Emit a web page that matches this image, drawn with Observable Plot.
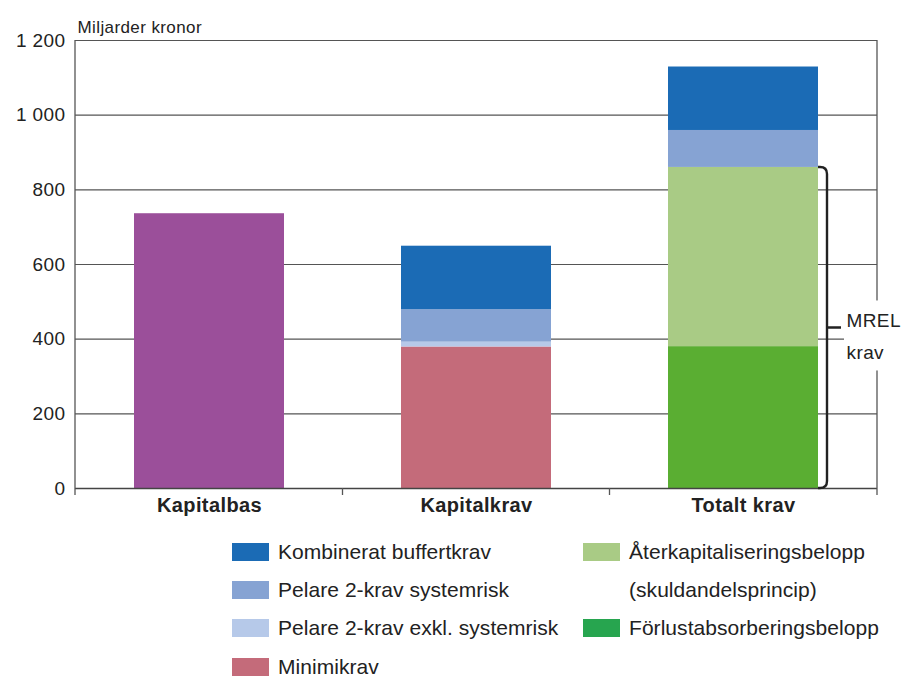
<!DOCTYPE html>
<html>
<head>
<meta charset="utf-8">
<script src="https://cdn.jsdelivr.net/npm/d3@7"></script>
<script src="https://cdn.jsdelivr.net/npm/@observablehq/plot@0.6"></script>
<style>
  html, body { margin: 0; padding: 0; background: #fff; }
  #wrap { position: relative; width: 909px; height: 677px; overflow: hidden; font-family: "Liberation Sans", Arial, sans-serif; color: #222; }
  .leg { position: absolute; display: flex; align-items: center; font-size: 21px; letter-spacing: 0.05px; white-space: nowrap; }
  .sw { width: 37px; height: 18px; margin-right: 9px; flex: none; }
</style>
</head>
<body>
<div id="wrap"></div>
<script>
const categories = ["Kapitalbas", "Kapitalkrav", "Totalt krav"];
const yTicks = [0, 200, 400, 600, 800, 1000, 1200];
const unitLabel = "Miljarder kronor";

// series values per category (Miljarder kronor)
const kapitalbas  = [736, 0, 0];
const minimikrav  = [0, 379, 0];
const pelare2Exkl = [0, 13, 0];
const pelare2Sys  = [0, 87, 99];
const buffert     = [0, 170, 170];
const forlust     = [0, 0, 380];
const aterkap     = [0, 0, 480];

const seriesNames = ["Kapitalbas", "Minimikrav", "Förlustabsorberingsbelopp", "Återkapitaliseringsbelopp",
  "Pelare 2-krav exkl. systemrisk", "Pelare 2-krav systemrisk", "Kombinerat buffertkrav"];
const seriesValues = [kapitalbas, minimikrav, forlust, aterkap, pelare2Exkl, pelare2Sys, buffert];
const seriesColors = ["#9b4f9a", "#c46b7a", "#5aae32", "#a9cb85", "#b6c9e9", "#86a3d3", "#1b6bb5"];

const legendCol1 = ["Kombinerat buffertkrav", "Pelare 2-krav systemrisk", "Pelare 2-krav exkl. systemrisk", "Minimikrav"];
const legendCol2 = [["Återkapitaliseringsbelopp", "(skuldandelsprincip)"], ["Förlustabsorberingsbelopp"]];
const legendCol2Colors = ["#a9cb85", "#27a54f"];

const rows = [];
seriesNames.forEach((s, i) => categories.forEach((c, j) => {
  if (seriesValues[i][j] > 0) rows.push({cat: c, comp: s, value: seriesValues[i][j]});
}));

const mrelTop = forlust[2] + aterkap[2];
const fmt = n => n >= 1000 ? `${Math.floor(n / 1000)} ${String(n % 1000).padStart(3, "0")}` : String(n);

const structure = (index, scales, values, dims) => {
  const {x, y} = scales;
  const g = d3.create("svg:g");
  const left = dims.marginLeft, right = dims.width - dims.marginRight;
  const top = dims.marginTop, bot = dims.height - dims.marginBottom;
  // frame verticals
  g.append("line").attr("x1", left).attr("x2", left).attr("y1", top).attr("y2", bot + 7)
    .attr("stroke", "#555").attr("stroke-width", 1.3);
  g.append("line").attr("x1", right).attr("x2", right).attr("y1", top).attr("y2", bot + 7)
    .attr("stroke", "#555").attr("stroke-width", 1.3);
  // ticks between categories
  const step = x.step ? x.step() : (right - left) / categories.length;
  for (let i = 0; i < categories.length - 1; i++) {
    const px = x(categories[i]) + x.bandwidth() / 2 + step / 2;
    g.append("line").attr("x1", px).attr("x2", px).attr("y1", bot).attr("y2", bot + 7)
      .attr("stroke", "#555").attr("stroke-width", 1.3);
  }
  // MREL brace
  const xr = x("Totalt krav") + x.bandwidth();
  const xc = xr + 9, r = 7;
  const yT = y(mrelTop), yB = y(0), yM = y(mrelTop / 2);
  // white backdrop for the label
  g.append("rect").attr("x", xc + 17).attr("y", yM - 27).attr("width", dims.width - xc - 17).attr("height", 70)
    .attr("fill", "white");
  g.append("path")
    .attr("d", `M${xr},${yT}H${xc - r}Q${xc},${yT} ${xc},${yT + r}V${yB - r}Q${xc},${yB} ${xc - r},${yB}H${xr}M${xc},${yM}H${xc + 14}`)
    .attr("fill", "none").attr("stroke", "#222").attr("stroke-width", 2.4);
  return g.node();
};

const chart = Plot.plot({
  width: 909,
  height: 530,
  marginLeft: 75,
  marginRight: 32,
  marginTop: 40,
  marginBottom: 42,
  style: {fontFamily: "'Liberation Sans', Arial, sans-serif", fontSize: "19px", color: "#222", background: "#fff", letterSpacing: "0.4px", overflow: "visible"},
  x: {domain: categories, paddingInner: 0.44, paddingOuter: 0.22, label: null},
  y: {domain: [0, 1200], label: null},
  color: {domain: seriesNames, range: seriesColors},
  marks: [
    Plot.ruleY(yTicks.filter(d => d > 0), {stroke: "#555", strokeWidth: 1.2, strokeOpacity: 1}),
    Plot.barY(rows, {x: "cat", y: "value", fill: "comp", order: seriesNames}),
    Plot.ruleY([0], {stroke: "#444", strokeWidth: 1.6}),
    Plot.axisY({ticks: yTicks, tickFormat: fmt, tickSize: 0, tickPadding: 10, fontSize: 19}),
    Plot.axisX({tickSize: 0, tickPadding: 9, fontWeight: "bold", fontSize: 20}),
    structure,
    Plot.text([{cat: "Totalt krav", v: mrelTop / 2}], {
      x: "cat", y: "v", text: () => "MREL\nkrav", textAnchor: "start", dx: 103, dy: 5,
      lineHeight: 1.7, fontSize: 19, fill: "#222"
    }),
    Plot.text([unitLabel], {frameAnchor: "top-left", text: d => d, textAnchor: "start", dx: 2, dy: -20, fontSize: 17, fill: "#222"})
  ]
});

const wrap = document.getElementById("wrap");
wrap.appendChild(chart);

const rowY = [552, 590, 628, 667];
legendCol1.forEach((name, i) => {
  const el = document.createElement("div");
  el.className = "leg";
  el.style.left = "232px";
  el.style.top = (rowY[i] - 12) + "px";
  const idx = seriesNames.indexOf(name);
  el.innerHTML = `<span class="sw" style="background:${seriesColors[idx]}"></span><span>${name}</span>`;
  wrap.appendChild(el);
});
const col2Rows = [[0, 1], [2]];
legendCol2.forEach((lines, i) => {
  lines.forEach((line, k) => {
    const el = document.createElement("div");
    el.className = "leg";
    el.style.left = "583px";
    el.style.top = (rowY[col2Rows[i][k]] - 12) + "px";
    const sw = k === 0 ? `background:${legendCol2Colors[i]}` : "background:transparent";
    el.innerHTML = `<span class="sw" style="${sw}"></span><span>${line}</span>`;
    wrap.appendChild(el);
  });
});
</script>
</body>
</html>
